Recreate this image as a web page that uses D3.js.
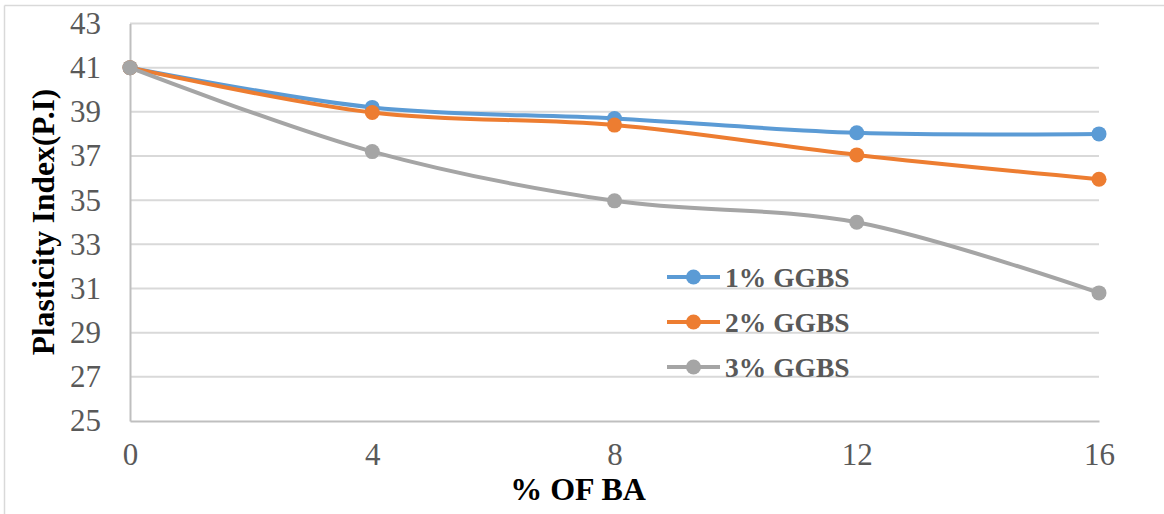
<!DOCTYPE html>
<html>
<head>
<meta charset="utf-8">
<script src="https://cdn.jsdelivr.net/npm/d3@7"></script>
<style>
  body { margin: 0; background: #fff; }
  svg { display: block; font-family: "Liberation Serif", "Times New Roman", serif; }
</style>
</head>
<body>
<svg id="chart" width="1164" height="514"></svg>
<script>
// data
const baPercent = [0, 4, 8, 12, 16];
const seriesNames = ["1% GGBS", "2% GGBS", "3% GGBS"];
const ggbs1 = [41, 39.2, 38.7, 38.05, 38];
const ggbs2 = [41, 38.97, 38.4, 37.05, 35.95];
const ggbs3 = [41, 37.2, 34.97, 34, 30.8];
const yTicks = [25, 27, 29, 31, 33, 35, 37, 39, 41, 43];
const colors = ["#5b9bd5", "#ed7d31", "#a5a5a5"];

const allSeries = [ggbs1, ggbs2, ggbs3];

// layout
const svg = d3.select("#chart");
const plotLeft = 130, plotRight = 1099, plotTop = 23.5, plotBottom = 421;

const x = d3.scaleLinear().domain([0, 16]).range([plotLeft, plotRight]);
const y = d3.scaleLinear().domain([25, 43]).range([plotBottom, plotTop]);

// outer frame (only top and left visible)
svg.append("line").attr("x1", 4.5).attr("x2", 1164).attr("y1", 5.5).attr("y2", 5.5)
  .attr("stroke", "#d9d9d9").attr("stroke-width", 1.5);
svg.append("line").attr("x1", 4.5).attr("x2", 4.5).attr("y1", 5.5).attr("y2", 514)
  .attr("stroke", "#d9d9d9").attr("stroke-width", 1.5);

// gridlines
svg.append("g")
  .selectAll("line")
  .data(yTicks.filter(d => d !== 25))
  .join("line")
  .attr("x1", plotLeft).attr("x2", plotRight)
  .attr("y1", d => y(d)).attr("y2", d => y(d))
  .attr("stroke", "#d9d9d9").attr("stroke-width", 2);

// y axis
const yAxis = svg.append("g")
  .attr("transform", `translate(${plotLeft},0)`)
  .call(d3.axisLeft(y).tickValues(yTicks).tickSize(0).tickPadding(29));
yAxis.select(".domain").attr("stroke", "#bfbfbf").attr("stroke-width", 2);
yAxis.selectAll("text").attr("font-size", 31).attr("fill", "#595959")
  .attr("font-family", "Liberation Serif");

// x axis
const xAxis = svg.append("g")
  .attr("transform", `translate(0,${plotBottom})`)
  .call(d3.axisBottom(x).tickValues(baPercent).tickSize(0).tickPadding(22));
xAxis.select(".domain").attr("stroke", "#bfbfbf").attr("stroke-width", 2);
xAxis.selectAll("text").attr("font-size", 31).attr("fill", "#595959")
  .attr("font-family", "Liberation Serif");

// axis titles
svg.append("text")
  .attr("x", 578).attr("y", 500)
  .attr("text-anchor", "middle")
  .attr("font-size", 32).attr("font-weight", "bold")
  .text("% OF BA");

svg.append("text")
  .attr("transform", "translate(54,222) rotate(-90)")
  .attr("text-anchor", "middle")
  .attr("font-size", 31.5).attr("font-weight", "bold")
  .text("Plasticity Index(P.I)");

// lines
const line = d3.line()
  .x((d, i) => x(baPercent[i]))
  .y(d => y(d))
  .curve(d3.curveCatmullRom.alpha(0.5));

const series = svg.append("g")
  .selectAll("g")
  .data(allSeries)
  .join("g");

series.append("path")
  .attr("d", d => line(d))
  .attr("fill", "none")
  .attr("stroke", (d, i) => colors[i])
  .attr("stroke-width", 4)
  .attr("stroke-linecap", "round");

series.each(function (vals, si) {
  d3.select(this).selectAll("circle")
    .data(vals)
    .join("circle")
    .attr("cx", (d, i) => x(baPercent[i]))
    .attr("cy", d => y(d))
    .attr("r", 7.5)
    .attr("fill", colors[si]);
});

// legend
const legend = svg.append("g")
  .selectAll("g")
  .data(seriesNames)
  .join("g")
  .attr("transform", (d, i) => `translate(667,${277 + i * 45})`);

legend.append("line")
  .attr("x1", 0).attr("x2", 53)
  .attr("stroke", (d, i) => colors[i])
  .attr("stroke-width", 4);
legend.append("circle")
  .attr("cx", 26.5).attr("r", 7.5)
  .attr("fill", (d, i) => colors[i]);
legend.append("text")
  .attr("x", 58).attr("y", 10)
  .attr("font-size", 27.5).attr("font-weight", "bold")
  .attr("fill", "#595959")
  .text(d => d);
</script>
</body>
</html>
